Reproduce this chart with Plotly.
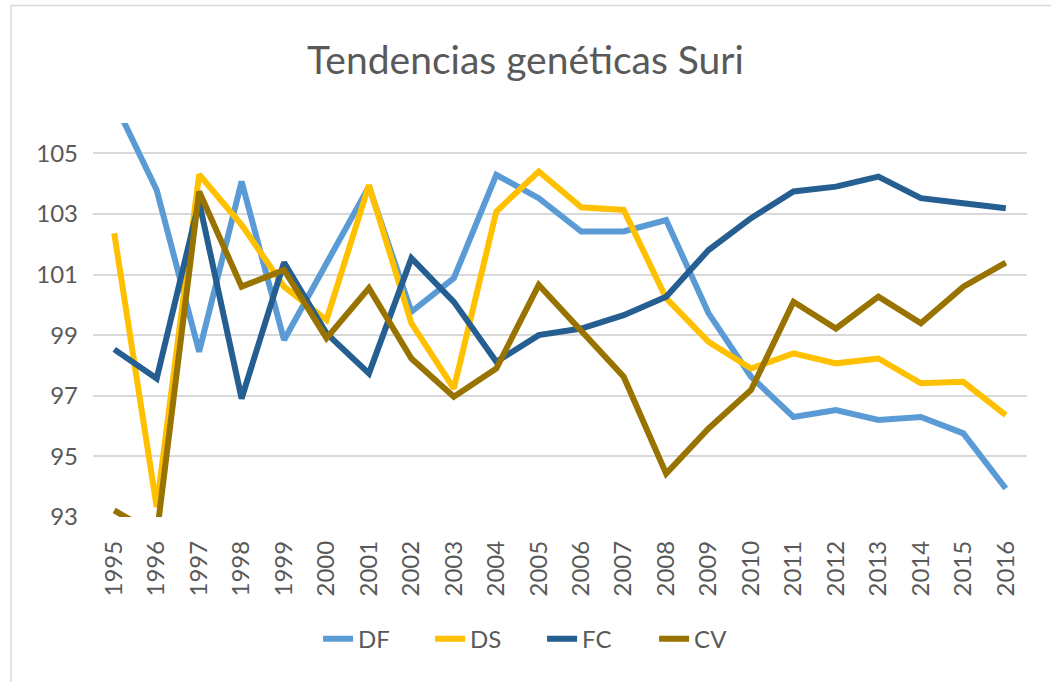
import plotly.graph_objects as go

years = [str(y) for y in range(1995, 2017)]
DF = [106.7, 103.79, 98.45, 104.07, 98.84, 101.4, 103.9, 99.77, 100.88, 104.29, 103.52,
      102.42, 102.42, 102.8, 99.72, 97.63, 96.3, 96.53, 96.2, 96.3, 95.76, 93.94]
DS = [102.36, 93.33, 104.3, 102.64, 100.6, 99.5, 103.95, 99.39, 97.24, 103.08, 104.4,
      103.22, 103.13, 100.22, 98.78, 97.9, 98.4, 98.07, 98.23, 97.41, 97.46, 96.36]
FC = [98.53, 97.57, 103.4, 96.91, 101.4, 99.06, 97.74, 101.54, 100.1, 98.12, 99.0,
      99.22, 99.66, 100.27, 101.81, 102.86, 103.74, 103.9, 104.23, 103.52, 103.35, 103.19]
CV = [93.22, 92.4, 103.74, 100.6, 101.15, 98.9, 100.55, 98.23, 96.97, 97.9, 100.66,
      99.17, 97.63, 94.43, 95.92, 97.19, 100.1, 99.22, 100.27, 99.39, 100.6, 101.39]
y_ticks = [93, 95, 97, 99, 101, 103, 105]

series = [("DF", DF, "#5B9BD5"), ("DS", DS, "#FFC000"),
          ("FC", FC, "#255E91"), ("CV", CV, "#997300")]

FONT = "Lato, Liberation Sans, Arial, sans-serif"
TXT = "#595959"

fig = go.Figure()
for name, vals, col in series:
    fig.add_trace(go.Scatter(x=years, y=vals, name=name, mode="lines",
                             line=dict(color=col, width=6)))

fig.update_layout(
    width=1051, height=682,
    paper_bgcolor="white", plot_bgcolor="white",
    margin=dict(l=93, r=24, t=123, b=165),
    title=dict(text="Tendencias genéticas Suri", x=0.5, xanchor="center",
               y=0.912, yanchor="middle",
               font=dict(family=FONT, size=39, color=TXT)),
    xaxis=dict(type="category", showgrid=False, zeroline=False, showline=False,
               ticks="", tickangle=-90, range=[-0.5, 21.5],
               tickfont=dict(family=FONT, size=24, color=TXT),
               ticklabelstandoff=18),
    yaxis=dict(range=[93, 106], tickvals=y_ticks, showgrid=True,
               gridcolor="#D9D9D9", gridwidth=1.6, zeroline=False, showline=False,
               ticks="", tickfont=dict(family=FONT, size=24, color=TXT),
               ticklabelstandoff=14),
    legend=dict(orientation="h", x=0.241, xanchor="left", y=-0.31, yanchor="middle",
                font=dict(family=FONT, size=24, color=TXT),
                entrywidth=67, entrywidthmode="pixels", bgcolor="rgba(0,0,0,0)"),
    showlegend=True,
)

# chart border
fig.add_shape(type="rect", xref="paper", yref="paper",
              x0=-0.0878, x1=1.035, y0=-0.44, y1=1.298,
              line=dict(color="#D9D9D9", width=1.5), fillcolor="rgba(0,0,0,0)",
              layer="below")

fig.write_html("out.html", config={"displayModeBar": False},
               post_script="document.body.style.margin='0';")
